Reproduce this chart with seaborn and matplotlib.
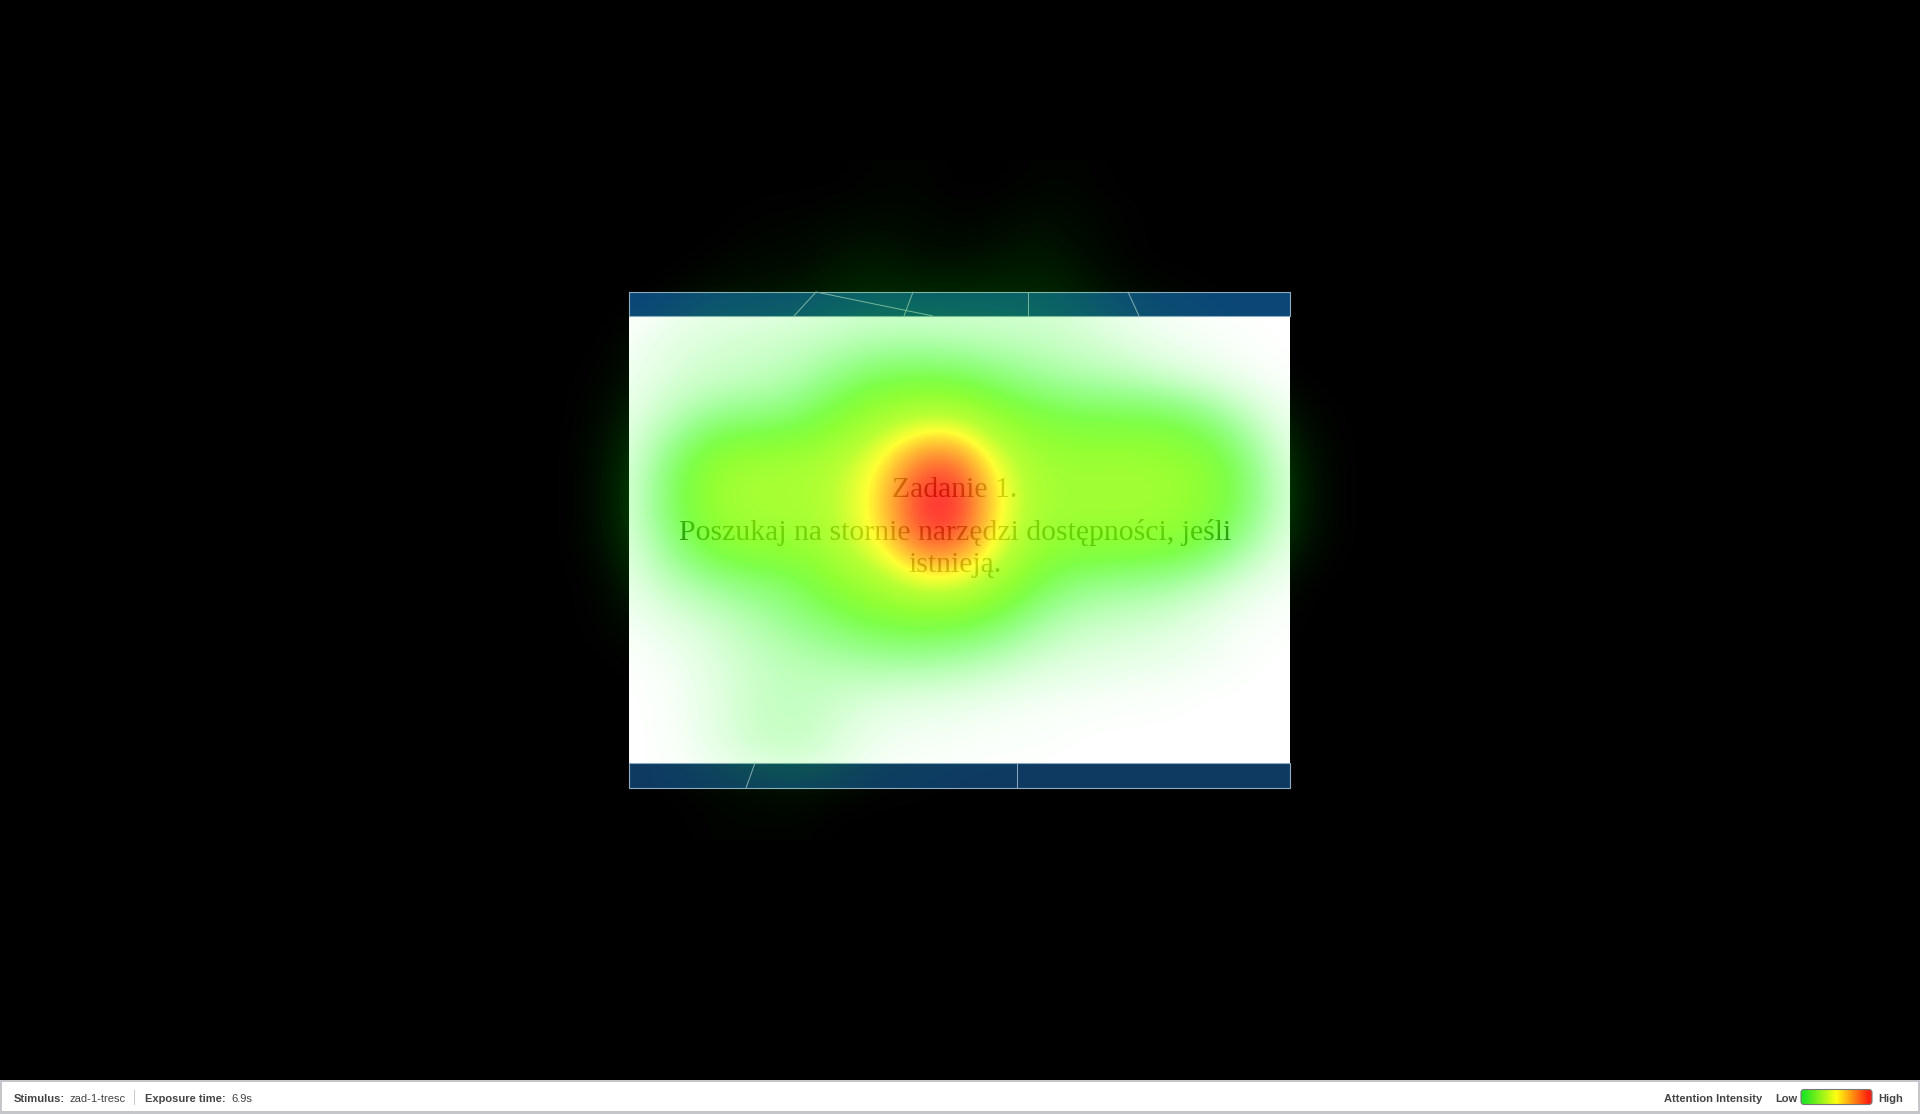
import numpy as np
import pandas as pd
import seaborn as sns
import matplotlib.pyplot as plt
from matplotlib.colors import LinearSegmentedColormap
from matplotlib.patches import FancyBboxPatch, Rectangle

grid_x = [560, 600, 640, 680, 720, 760, 800, 840, 880, 920, 960, 1000, 1040, 1080, 1120, 1160, 1200, 1240, 1280, 1320, 1360]
grid_y = [180, 220, 260, 300, 340, 380, 420, 460, 500, 540, 580, 620, 660, 700, 740, 780, 820]
attention = [
    [0, 0, 0, 0, 0, 0, 0, 0, 1, 1, 0, 0, 1, 1, 0, 0, 0, 0, 0, 0, 0],
    [0, 0, 0, 0, 0, 1, 1, 2, 2, 2, 1, 2, 3, 2, 1, 0, 0, 0, 0, 0, 0],
    [0, 0, 0, 0, 1, 2, 2, 4, 5, 3, 3, 4, 5, 3, 1, 0, 0, 0, 0, 0, 0],
    [0, 0, 0, 2, 4, 4, 5, 7, 8, 8, 8, 8, 8, 6, 3, 2, 1, 0, 0, 0, 0],
    [0, 0, 3, 6, 8, 9, 10, 12, 14, 14, 13, 12, 11, 9, 6, 3, 2, 1, 0, 0, 0],
    [0, 1, 4, 8, 10, 12, 16, 25, 33, 35, 33, 26, 20, 16, 14, 10, 6, 3, 1, 0, 0],
    [0, 2, 7, 15, 24, 26, 30, 43, 56, 65, 65, 49, 40, 36, 36, 35, 28, 15, 5, 1, 0],
    [0, 3, 10, 30, 49, 52, 53, 60, 73, 92, 92, 68, 52, 50, 51, 50, 46, 29, 9, 2, 0],
    [0, 3, 12, 35, 52, 55, 55, 62, 78, 100, 100, 74, 54, 52, 53, 52, 47, 32, 11, 2, 0],
    [0, 3, 10, 28, 46, 50, 50, 60, 75, 95, 95, 70, 50, 47, 48, 46, 40, 22, 8, 2, 0],
    [0, 1, 7, 15, 22, 27, 33, 48, 58, 72, 72, 55, 35, 25, 22, 20, 14, 7, 3, 0, 0],
    [0, 1, 3, 6, 10, 16, 23, 30, 38, 40, 38, 30, 18, 12, 10, 8, 5, 2, 1, 0, 0],
    [0, 0, 1, 3, 7, 11, 14, 16, 18, 18, 16, 12, 8, 6, 5, 4, 3, 1, 0, 0, 0],
    [0, 0, 0, 2, 6, 11, 12, 9, 6, 5, 4, 3, 2, 2, 1, 1, 0, 0, 0, 0, 0],
    [0, 0, 0, 2, 6, 11, 12, 7, 3, 2, 2, 1, 1, 0, 0, 0, 0, 0, 0, 0, 0],
    [0, 0, 0, 1, 2, 3, 4, 3, 1, 1, 0, 0, 0, 0, 0, 0, 0, 0, 0, 0, 0],
    [0, 0, 0, 0, 1, 1, 1, 0, 0, 0, 0, 0, 0, 0, 0, 0, 0, 0, 0, 0, 0],
]
stimulus_name = "zad-1-tresc"
exposure_time = "6.9s"
task_lines = ["Zadanie 1.", "Poszukaj na stornie narzędzi dostępności, jeśli", "istnieją."]
legend_levels = [0, 10, 20, 30, 40, 50, 60, 70, 80, 90, 100]

W, H = 1920, 1114

sns.set_theme(style="white")
plt.rcParams["font.family"] = ["Liberation Sans", "DejaVu Sans"]

heat_cmap = LinearSegmentedColormap.from_list("attention", [
    (0.00, (0.0, 1.0, 0.0, 0.0)),
    (0.20, (0.1, 1.0, 0.0, 0.42)),
    (0.35, (0.3, 1.0, 0.0, 0.72)),
    (0.45, (0.45, 1.0, 0.0, 0.80)),
    (0.60, (0.65, 1.0, 0.0, 0.80)),
    (0.72, (1.0, 1.0, 0.0, 0.80)),
    (0.86, (1.0, 0.5, 0.0, 0.80)),
    (0.985, (1.0, 0.0, 0.0, 0.80)),
    (1.00, (1.0, 0.0, 0.0, 0.80)),
])
legend_cmap = LinearSegmentedColormap.from_list("legend", ["#22e622", "#ffff10", "#ff2010"])

fig = plt.figure(figsize=(W / 100, H / 100), dpi=100, facecolor="black")
ax = fig.add_axes([0, 0, 1, 1], zorder=1)
ax.set_xlim(0, W)
ax.set_ylim(H, 0)
ax.set_facecolor("black")
ax.axis("off")

# stimulus page
ax.add_patch(Rectangle((629, 292), 661, 496, fc="white", ec="none"))
for top, bottom, band in [(292, 316, "#0c4677"), (763, 788, "#0e3a62")]:
    ax.add_patch(Rectangle((629, top), 661, bottom - top, fc=band, ec="#8fabc0", lw=0.8))
for x0, y0, x1, y1 in [(816, 292, 794, 316), (816, 292, 933, 316), (913, 292, 904, 316),
                       (1028, 292, 1028, 316), (1128, 292, 1139, 316),
                       (755, 763, 746, 788), (1017, 763, 1017, 788)]:
    ax.plot([x0, x1], [y0, y1], color="#8fa9bb", lw=0.7)

for line, y in zip(task_lines, [490, 533, 565]):
    ax.text(955, y, line, ha="center", va="center", color="#222222",
            fontsize=21.4, family=["Liberation Serif"])

# attention layer sits above the page
step = 40
left, right = grid_x[0] - step / 2, grid_x[-1] + step / 2
top, bottom = grid_y[0] - step / 2, grid_y[-1] + step / 2
heat_ax = fig.add_axes([left / W, 1 - bottom / H, (right - left) / W, (bottom - top) / H], zorder=2)
heat_df = pd.DataFrame(attention, index=grid_y, columns=grid_x)
sns.heatmap(heat_df, cmap=heat_cmap, vmin=0, vmax=100, cbar=False,
            xticklabels=False, yticklabels=False, ax=heat_ax)
heat_ax.patch.set_alpha(0)
# same cells, smoothed between samples like the eye tracker's overlay
heat_ax.collections[0].set_visible(False)
heat_ax.imshow(heat_df.to_numpy(), cmap=heat_cmap, vmin=0, vmax=100, aspect="auto",
               interpolation="bicubic", interpolation_stage="data",
               extent=(0, len(grid_x), len(grid_y), 0))
heat_ax.set_xlim(0, len(grid_x))
heat_ax.set_ylim(len(grid_y), 0)
heat_ax.set_xlabel("")
heat_ax.set_ylabel("")
heat_ax.axis("off")

# status bar
ax.add_patch(Rectangle((0, 1080), W, 34, fc="#c4c6c9", ec="none"))
ax.add_patch(Rectangle((2, 1082), 1915.5, 29, fc="white", ec="none"))
ax.plot([134, 134], [1090, 1104], color="#cccccc", lw=0.8)
bar_text = {"color": "#444444", "va": "center", "fontsize": 8.0}
ax.text(14, 1098.5, "Stimulus:", fontweight="bold", **bar_text)
ax.text(70, 1098.5, stimulus_name, **bar_text)
ax.text(145, 1098.5, "Exposure time:", fontweight="bold", **bar_text)
ax.text(231, 1098.5, exposure_time, **bar_text)
ax.text(1664, 1098.5, "Attention Intensity", fontweight="bold", **bar_text)
ax.text(1775, 1098.5, "Low", fontweight="bold", **bar_text)
ax.text(1878, 1098.5, "High", fontweight="bold", **bar_text)

frame = FancyBboxPatch((1801, 1089.5), 71, 15, boxstyle="round,pad=0,rounding_size=3",
                       fc="none", ec="#777777", lw=0.8, zorder=4)
ax.add_patch(frame)
gradient = ax.imshow(np.array([legend_levels]), cmap=legend_cmap, aspect="auto",
                     interpolation="bilinear", extent=(1801, 1872, 1104.5, 1089.5), zorder=3)
gradient.set_clip_path(frame)
ax.set_xlim(0, W)
ax.set_ylim(H, 0)

fig.savefig("out.png", dpi=100, facecolor="black")
